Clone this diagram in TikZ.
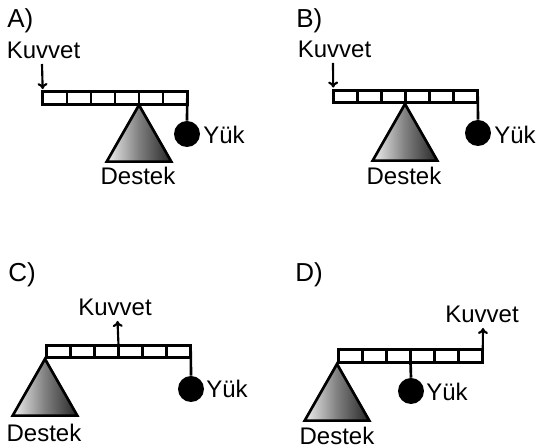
\documentclass[tikz,border=0pt]{standalone}
\usepackage{fontspec}
\setmainfont{Liberation Sans}
\usetikzlibrary{shapes.geometric, arrows.meta}
\begin{document}
\begin{tikzpicture}[
        x=0.75pt, y=-0.75pt,
        every node/.style={font=\fontsize{18}{21}\selectfont}, % Text styling
        title/.style={anchor=base west, inner sep=0pt, font=\fontsize{19.5}{22}\selectfont}, % A) B) C) D)
        word/.style={anchor=base, inner sep=0pt},
        beam/.style={draw, line width=2pt, outer sep=0pt, minimum width=108.4pt, minimum height=9.4pt,
            path picture={\foreach \i in {1,...,5}
                \draw[line width=1.9pt] ([xshift=\i*18.07pt] path picture bounding box.north west) -- ([xshift=\i*18.07pt] path picture bounding box.south west);}}, % Box with cells
        support/.style={draw, line width=2pt, isosceles triangle, shape border rotate=90, isosceles triangle apex angle=59,
            isosceles triangle stretches, inner sep=0pt, outer sep=0pt, minimum width=48.5pt, minimum height=42.5pt,
            anchor=apex, left color=gray!12, right color=black!85, middle color=gray}, % Fulcrum
        ball/.style={circle, fill=black, inner sep=0pt, minimum size=19.5pt},
        rope/.style={line width=2pt},
        push/.style={line width=1.6pt, -{To[length=4.5pt, width=7.5pt]}} % Arrow styling
        ]
        \useasboundingbox (0,0) rectangle (537,448);

        % Lever A
        \node (titleA) [title] at (7,28) {A)};
        \node (beamA) [beam] at (115,98) {};
        \node (supportA) [support] at (139,105) {};
        \node (ballA) [ball] at (187,134) {};
        \node (forceA) [word] at (43.5,59) {Kuvvet};
        \node (loadA) [word, anchor=base west] at (203,144) {Yük};
        \node (baseA) [word] at (138,185) {Destek};
        \coordinate (startA) at (42,64);
        \draw[push, shorten >=2pt] (startA) -- (beamA.north west);
        \draw[rope] (beamA.east) -- (ballA.north);

        % Lever B
        \node (titleB) [title] at (296,28) {B)};
        \node (beamB) [beam] at (405.5,96.5) {};
        \node (supportB) [support] at (405,104) {};
        \node (ballB) [ball] at (478,133) {};
        \node (forceB) [word] at (334.5,58) {Kuvvet};
        \node (loadB) [word, anchor=base west] at (494,144) {Yük};
        \node (baseB) [word] at (404,185) {Destek};
        \coordinate (startB) at (333,63);
        \draw[push, shorten >=2pt] (startB) -- (beamB.north west);
        \draw[rope] (beamB.east) -- (ballB.north);

        % Lever C
        \node (titleC) [title] at (8,282) {C)};
        \node (beamC) [beam] at (118.5,351.5) {};
        \node (supportC) [support] at (45,359) {};
        \node (ballC) [ball] at (191,389) {};
        \node (forceC) [word] at (115,316) {Kuvvet};
        \node (loadC) [word, anchor=base west] at (206,398) {Yük};
        \node (baseC) [word] at (44,442) {Destek};
        \coordinate (endC) at (117.5,321);
        \draw[push] (beamC.north) -- (endC);
        \draw[rope] (beamC.east) -- (ballC.north);

        % Lever D
        \node (titleD) [title] at (295,282) {D)};
        \node (beamD) [beam] at (410.5,356) {};
        \node (supportD) [support] at (337,364) {};
        \node (ballD) [ball] at (411,391) {};
        \node (forceD) [word] at (482,323) {Kuvvet};
        \node (loadD) [word, anchor=base west] at (426,401) {Yük};
        \node (baseD) [word] at (337,445) {Destek};
        \coordinate (endD) at (483,328);
        \draw[push] (beamD.north east) -- (endD);
        \draw[rope] (beamD.south) -- (ballD.north);
    \end{tikzpicture}
\end{document}
